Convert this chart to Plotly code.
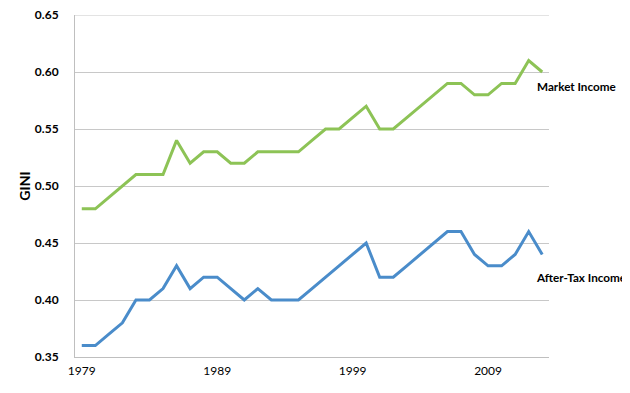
import plotly.graph_objects as go

years = list(range(1979, 2014))
market_income = [0.48, 0.48, 0.49, 0.50, 0.51, 0.51, 0.51, 0.54, 0.52, 0.53,
                 0.53, 0.52, 0.52, 0.53, 0.53, 0.53, 0.53, 0.54, 0.55, 0.55,
                 0.56, 0.57, 0.55, 0.55, 0.56, 0.57, 0.58, 0.59, 0.59, 0.58,
                 0.58, 0.59, 0.59, 0.61, 0.60]
after_tax_income = [0.36, 0.36, 0.37, 0.38, 0.40, 0.40, 0.41, 0.43, 0.41, 0.42,
                    0.42, 0.41, 0.40, 0.41, 0.40, 0.40, 0.40, 0.41, 0.42, 0.43,
                    0.44, 0.45, 0.42, 0.42, 0.43, 0.44, 0.45, 0.46, 0.46, 0.44,
                    0.43, 0.43, 0.44, 0.46, 0.44]
x_ticks = [1979, 1989, 1999, 2009]
y_ticks = [0.35, 0.40, 0.45, 0.50, 0.55, 0.60, 0.65]

GREEN = "#8DC356"
BLUE = "#4A8CCA"
GRID = "#C8C8C8"
FONT = "Lato, 'Open Sans', sans-serif"

fig = go.Figure()
fig.add_trace(go.Scatter(x=years, y=market_income, mode="lines",
                         line=dict(color=GREEN, width=3), name="Market Income"))
fig.add_trace(go.Scatter(x=years, y=after_tax_income, mode="lines",
                         line=dict(color=BLUE, width=3), name="After-Tax Income"))

# page body has an 8px margin, so the figure is 8px smaller and margins shifted
fig.update_layout(
    template="none",
    width=622, height=385,
    margin=dict(l=67, r=81, t=7, b=36, autoexpand=False),
    paper_bgcolor="white", plot_bgcolor="white",
    showlegend=False,
    font=dict(family=FONT, color="black"),
    xaxis=dict(range=[1978.5, 2013.5], tickvals=x_ticks,
               ticktext=[str(v) for v in x_ticks], automargin=False,
               showgrid=False, zeroline=False,
               showline=True, linecolor="#BFBFBF", linewidth=1,
               ticks="", tickfont=dict(size=12, family=FONT), ticklabelstandoff=3,
               ticklabeloverflow="allow"),
    yaxis=dict(range=[y_ticks[0], y_ticks[-1]], tickvals=y_ticks, automargin=False,
               ticktext=["<b>%.2f</b>" % v for v in y_ticks],
               showgrid=True, gridcolor=GRID, gridwidth=1,
               zeroline=False, showline=True, linecolor="#BFBFBF", linewidth=1,
               ticks="", tickfont=dict(size=12, family=FONT), ticklabelstandoff=13,
               ticklabeloverflow="allow",
               title=dict(text="<b>GINI</b>", font=dict(size=14, family=FONT))),
    shapes=[dict(type="line", xref="paper", yref="y", x0=0, x1=1,
                 y0=y_ticks[-1], y1=y_ticks[-1], layer="below",
                 line=dict(color=GRID, width=1))],
    annotations=[
        dict(text="<b>Market Income</b>", xref="paper", yref="y",
             x=(535 - 75) / 474, y=0.5875, xanchor="left", yanchor="middle",
             showarrow=False, font=dict(size=11.7, family=FONT)),
        dict(text="<b>After-Tax Income</b>", xref="paper", yref="y",
             x=(534 - 75) / 474, y=0.4202, xanchor="left", yanchor="middle",
             showarrow=False, font=dict(size=11.7, family=FONT)),
    ],
)

fig.write_html("out.html")
